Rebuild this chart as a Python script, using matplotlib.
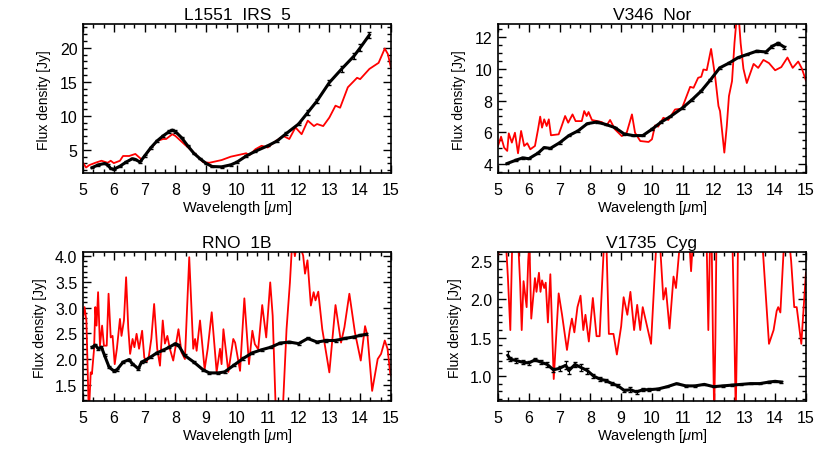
import matplotlib
matplotlib.use("Agg")
import matplotlib.pyplot as plt
from matplotlib.ticker import MultipleLocator, FormatStrFormatter

plt.rcParams['font.family'] = ['Liberation Sans', 'DejaVu Sans']
plt.rcParams['mathtext.fontset'] = 'custom'
plt.rcParams['mathtext.it'] = 'Liberation Sans:italic'
plt.rcParams['mathtext.rm'] = 'Liberation Sans'

# ---------------- L1551 IRS 5 ----------------
l1551_obs_wl = [5.3, 5.5, 5.7, 5.8, 5.9, 6.0, 6.2, 6.4, 6.6, 6.7, 6.85, 7.0, 7.2, 7.4, 7.6, 7.8, 7.9,
                8.0, 8.2, 8.4, 8.6, 8.8, 9.0, 9.2, 9.5, 9.8, 10.0, 10.3, 10.6, 11.0, 11.3, 11.6, 12.0,
                12.3, 12.6, 13.0, 13.4, 13.8, 14.0, 14.3]
l1551_obs_flux = [2.4, 2.8, 3.0, 2.8, 2.25, 2.15, 2.6, 3.2, 3.7, 3.6, 3.2, 4.1, 5.3, 6.3, 7.05, 7.7, 7.9,
                  7.7, 6.8, 5.6, 4.5, 3.7, 3.0, 2.55, 2.5, 2.8, 3.2, 4.1, 4.8, 5.6, 6.3, 7.4, 8.8,
                  10.5, 12.2, 14.9, 16.9, 18.8, 20.0, 21.9]
l1551_obs_err = [0.1, 0.1, 0.1, 0.1, 0.1, 0.1, 0.1, 0.1, 0.1, 0.1, 0.1, 0.1, 0.1, 0.1, 0.1, 0.15, 0.15,
                 0.15, 0.1, 0.1, 0.1, 0.1, 0.1, 0.1, 0.1, 0.1, 0.1, 0.1, 0.1, 0.1, 0.15, 0.2, 0.2,
                 0.3, 0.3, 0.4, 0.4, 0.5, 0.5, 0.5]
l1551_mod_wl = [5.0, 5.1, 5.2, 5.4, 5.6, 5.8, 5.9, 6.0, 6.2, 6.3, 6.5, 6.7, 6.9, 7.0, 7.2, 7.4, 7.6, 7.7,
                7.9, 8.0, 8.3, 8.6, 8.9, 9.1, 9.5, 9.8, 10.0, 10.3, 10.4, 10.6, 10.8, 11.0, 11.2, 11.5,
                11.7, 11.9, 12.1, 12.3, 12.5, 12.6, 12.8, 13.0, 13.2, 13.35, 13.6, 13.9, 14.0, 14.3,
                14.6, 14.8, 14.9, 15.0]
l1551_mod_flux = [3.1, 2.4, 2.75, 3.1, 3.4, 3.1, 3.4, 3.05, 3.4, 4.1, 4.1, 4.4, 3.6, 4.1, 5.2, 6.3, 6.6, 6.6,
                  7.3, 7.05, 5.8, 4.6, 3.2, 3.1, 3.5, 4.0, 4.2, 4.5, 4.2, 5.1, 5.6, 5.35, 6.1, 7.05,
                  6.6, 8.3, 7.3, 9.3, 8.5, 8.8, 8.5, 9.75, 11.5, 11.2, 14.2, 15.6, 15.4, 16.9,
                  17.8, 19.9, 19.1, 17.1]

# ---------------- V346 Nor ----------------
v346_obs_wl = [5.3, 5.6, 5.8, 6.0, 6.3, 6.5, 6.7, 7.0, 7.3, 7.6, 7.9, 8.2, 8.5, 8.8, 9.1, 9.4, 9.7,
               10.0, 10.3, 10.6, 11.0, 11.3, 11.6, 11.9, 12.2, 12.5, 12.8, 13.1, 13.4, 13.7, 13.9,
               14.1, 14.3]
v346_obs_flux = [4.05, 4.27, 4.4, 4.35, 4.7, 5.05, 5.0, 5.35, 5.8, 6.1, 6.55, 6.65, 6.5, 6.3, 5.9, 5.8,
                 5.8, 6.2, 6.65, 7.0, 7.55, 8.05, 8.6, 9.3, 10.05, 10.35, 10.7, 10.9, 11.1, 11.05,
                 11.4, 11.6, 11.35]
v346_obs_err = [0.05] * 29 + [0.08, 0.1, 0.1, 0.1]
v346_mod_wl = [5.0, 5.1, 5.2, 5.3, 5.35, 5.45, 5.55, 5.65, 5.75, 5.85, 5.95, 6.05, 6.2, 6.3, 6.37,
               6.43, 6.5, 6.58, 6.65, 6.72, 6.97, 7.05, 7.18, 7.28, 7.42, 7.52, 7.72, 7.8, 7.88,
               7.94, 8.05, 8.37, 8.53, 8.64, 8.8, 9.02, 9.18, 9.35, 9.45, 9.62, 9.89, 10.0, 10.1,
               10.2, 10.37, 10.53, 10.75, 10.97, 11.24, 11.35, 11.5, 11.6, 11.67, 11.78, 11.92,
               12.05, 12.16, 12.21, 12.35, 12.43, 12.5, 12.6, 12.68, 12.76, 12.82, 12.88, 12.97,
               13.08, 13.3, 13.45, 13.62, 13.8, 14.0, 14.2, 14.4, 14.57, 14.75, 14.87, 15.0]
v346_mod_flux = [5.15, 5.73, 5.04, 4.84, 5.94, 5.36, 5.98, 4.69, 6.09, 5.15, 5.32, 4.94, 5.15, 6.19, 6.99,
                 6.3, 6.82, 6.4, 6.82, 5.82, 5.88, 6.3, 7.03, 6.61, 7.13, 6.71, 6.71, 7.34, 7.03,
                 7.28, 6.78, 6.65, 6.44, 6.78, 6.19, 5.77, 5.98, 7.13, 5.98, 5.46, 5.4, 5.57, 6.44,
                 6.36, 6.92, 6.78, 7.44, 7.49, 8.86, 8.8, 9.43, 9.49, 9.95, 9.91, 11.24,
                 9.53, 7.65, 7.34, 4.73, 6.4, 8.28, 9.22, 11.62, 13.4, 13.2, 11.6, 10.0,
                 9.1, 10.3, 10.05, 10.55, 10.35, 9.9, 10.1, 10.7, 10.05, 10.45, 10.0, 9.25]

# ---------------- RNO 1B ----------------
rno_obs_wl = [5.3, 5.4, 5.5, 5.6, 5.7, 5.85, 6.0, 6.1, 6.3, 6.5, 6.6, 6.8, 6.9, 7.0, 7.2, 7.4, 7.6,
              7.8, 8.0, 8.1, 8.3, 8.6, 8.9, 9.1, 9.4, 9.6, 9.9, 10.2, 10.5, 10.8, 11.1, 11.4, 11.7,
              12.0, 12.3, 12.6, 12.9, 13.2, 13.5, 13.8, 14.0, 14.2]
rno_obs_flux = [2.23, 2.27, 2.2, 2.23, 2.07, 1.84, 1.77, 1.79, 1.94, 1.99, 1.91, 1.81, 1.94, 1.97, 2.04,
                2.12, 2.17, 2.23, 2.3, 2.27, 2.07, 1.94, 1.79, 1.73, 1.73, 1.75, 1.88, 2.01, 2.12,
                2.18, 2.23, 2.31, 2.33, 2.3, 2.4, 2.33, 2.36, 2.36, 2.4, 2.43, 2.46, 2.48]
rno_obs_err = [0.02] * 42
rno_mod_wl = [5.0, 5.05, 5.11, 5.19, 5.25, 5.29, 5.36, 5.4, 5.44, 5.49, 5.55, 5.62, 5.68, 5.77, 5.83,
              5.9, 5.96, 6.03, 6.1, 6.2, 6.25, 6.33, 6.4, 6.47, 6.53, 6.61, 6.67, 6.74, 6.82, 6.92,
              6.99, 7.07, 7.14, 7.22, 7.31, 7.41, 7.5, 7.59, 7.66, 7.74, 7.82, 7.93, 8.1, 8.2, 8.31,
              8.45, 8.58, 8.64, 8.69, 8.8, 8.95, 9.05, 9.18, 9.34, 9.45, 9.5, 9.56, 9.72, 9.88,
              9.94, 10.1, 10.24, 10.39, 10.5, 10.58, 10.69, 10.82, 10.95, 11.08, 11.16, 11.26,
              11.33, 11.4, 11.5, 11.61, 11.72, 11.8, 11.88, 11.97, 12.05, 12.15, 12.21, 12.29,
              12.4, 12.49, 12.55, 12.64, 12.77, 13.0, 13.2, 13.38, 13.49, 13.65, 13.83, 14.02,
              14.16, 14.24, 14.39, 14.57, 14.68, 14.8, 14.89, 14.98, 15.0]
rno_mod_flux = [2.78, 3.01, 2.75, 0.9, 1.74, 1.71, 2.2, 3.01, 2.65, 3.3, 2.26, 2.65, 2.26, 2.26, 3.27,
                2.42, 2.45, 1.9, 2.2, 2.78, 2.45, 2.75, 3.59, 2.6, 2.1, 2.39, 2.23, 2.49, 2.2, 2.55,
                2.03, 1.95, 2.06, 2.4, 3.07, 2.2, 1.87, 2.75, 2.3, 2.45, 2.2, 1.97, 2.58, 2.13, 2.0,
                3.98, 2.2, 2.39, 2.16, 2.75, 1.8, 2.2, 2.91, 1.75, 2.2, 1.9, 2.58, 1.75, 2.39,
                2.32, 1.77, 3.18, 1.9, 2.55, 2.29, 2.19, 3.05, 2.42, 3.49, 2.84, 1.0,
                0.5, 0.7, 1.16, 2.58, 3.49, 4.35, 4.0, 4.3, 4.2, 4.01, 3.66, 3.92,
                3.04, 3.3, 3.14, 3.31, 2.58, 1.74, 3.05, 2.32, 2.62, 3.27, 2.52, 1.97,
                2.64, 2.45, 1.38, 2.0, 2.1, 2.36, 2.2, 1.71, 1.68]

# ---------------- V1735 Cyg ----------------
v1735_obs_wl = [5.32, 5.4, 5.6, 5.8, 6.0, 6.2, 6.4, 6.6, 6.8, 7.0, 7.2, 7.3, 7.5, 7.7, 7.9, 8.1, 8.3,
                8.5, 8.7, 8.9, 9.1, 9.3, 9.5, 9.7, 9.9, 10.2, 10.5, 10.8, 11.1, 11.4, 11.7, 12.0,
                12.3, 12.6, 12.9, 13.2, 13.5, 13.8, 14.0, 14.2]
v1735_obs_flux = [1.27, 1.22, 1.2, 1.18, 1.17, 1.21, 1.18, 1.15, 1.08, 1.1, 1.14, 1.07, 1.15, 1.11, 1.07,
                  1.0, 0.96, 0.94, 0.9, 0.87, 0.81, 0.82, 0.79, 0.82, 0.82, 0.83, 0.86, 0.9, 0.87,
                  0.87, 0.89, 0.86, 0.87, 0.88, 0.89, 0.9, 0.9, 0.92, 0.93, 0.92]
v1735_obs_err = [0.05, 0.03, 0.03, 0.03, 0.03, 0.02, 0.03, 0.03, 0.03, 0.03, 0.05, 0.05, 0.03, 0.05,
                 0.04, 0.03, 0.02, 0.02, 0.02, 0.02, 0.02, 0.03, 0.03, 0.02, 0.02, 0.01, 0.01, 0.01,
                 0.01, 0.01, 0.01, 0.01, 0.01, 0.01, 0.01, 0.01, 0.01, 0.01, 0.01, 0.01]
v1735_mod_wl = [5.0, 5.12, 5.25, 5.32, 5.4, 5.46, 5.55, 5.65, 5.72, 5.77, 5.83, 5.93, 5.98, 6.02, 6.08,
                6.2, 6.25, 6.33, 6.38, 6.43, 6.5, 6.55, 6.62, 6.7, 6.81, 6.97, 7.08, 7.24, 7.33, 7.4,
                7.48, 7.58, 7.68, 7.77, 7.84, 7.95, 8.08, 8.2, 8.3, 8.45, 8.52, 8.6, 8.75, 8.86, 9.0,
                9.08, 9.2, 9.3, 9.42, 9.52, 9.62, 9.7, 9.97, 10.15, 10.25, 10.37, 10.45, 10.57, 10.7,
                10.78, 10.92, 11.1, 11.22, 11.27, 11.32, 11.4, 11.7, 11.78, 11.83, 11.88, 11.93,
                11.98, 12.02, 12.06, 12.1, 12.6, 12.68, 12.72, 12.76, 12.8, 13.5, 13.6, 13.8, 13.95,
                14.05, 14.1, 14.17, 14.27, 14.35, 14.45, 14.52, 14.62, 14.7, 14.85, 15.0]
v1735_mod_flux = [2.58, 2.75, 2.8, 2.3, 1.6, 2.7, 3.0, 2.8, 2.2, 1.6, 2.24, 1.9, 2.5, 2.75, 1.75,
                  2.28, 2.1, 2.35, 2.1, 2.25, 2.15, 2.22, 1.7, 2.33, 0.96, 2.08, 1.8, 1.34, 1.6, 1.75,
                  1.57, 1.9, 2.05, 1.6, 1.8, 1.45, 2.02, 1.52, 1.52, 2.8, 2.75, 1.55, 1.55, 1.28, 1.65,
                  2.03, 1.8, 2.1, 1.6, 1.93, 1.6, 1.9, 1.42, 2.8, 2.8, 2.0, 2.15, 1.62, 2.3,
                  2.15, 2.8, 2.9, 2.7, 2.37, 2.7, 3.0, 3.0, 2.65, 1.6, 2.65, 3.0,
                  1.5, 0.5, 1.5, 3.0, 3.0, 1.5, 0.5, 1.5, 3.0, 3.0, 2.65, 1.42, 1.6,
                  1.85, 1.9, 1.83, 2.6, 2.8, 2.8, 2.5, 1.9, 1.9, 1.42, 2.35]

titles = ['L1551  IRS  5', 'V346  Nor', 'RNO  1B', 'V1735  Cyg']
ylims = [(1.57, 23.5), (3.44, 12.8), (1.18, 4.08), (0.67, 2.62)]
ymajor = [5, 2, 0.5, 0.5]
yminor = [1, 0.5, 0.1, 0.1]
yfmt = ['%d', '%d', '%.1f', '%.1f']

panels = [
    (l1551_obs_wl, l1551_obs_flux, l1551_obs_err, l1551_mod_wl, l1551_mod_flux),
    (v346_obs_wl, v346_obs_flux, v346_obs_err, v346_mod_wl, v346_mod_flux),
    (rno_obs_wl, rno_obs_flux, rno_obs_err, rno_mod_wl, rno_mod_flux),
    (v1735_obs_wl, v1735_obs_flux, v1735_obs_err, v1735_mod_wl, v1735_mod_flux),
]

fig = plt.figure(figsize=(8.30, 4.56), dpi=100)
rects = [
    [0.1, 0.618, 0.371, 0.327],
    [0.6, 0.618, 0.371, 0.327],
    [0.1, 0.118, 0.371, 0.327],
    [0.6, 0.118, 0.371, 0.327],
]

for i, (rect, pdata) in enumerate(zip(rects, panels)):
    ax = fig.add_axes(rect)
    ow, of, oe, mw, mf = pdata
    ax.plot(mw, mf, color='#ff0000', lw=1.3, zorder=2, solid_joinstyle='round')
    ax.errorbar(ow, of, yerr=oe, fmt='-', color='black', lw=2.2, elinewidth=0.8,
                capsize=1.2, zorder=3)
    ax.set_xlim(5, 15)
    ax.set_ylim(*ylims[i])
    ax.xaxis.set_major_locator(MultipleLocator(1))
    ax.xaxis.set_minor_locator(MultipleLocator(1 / 3))
    ax.yaxis.set_major_locator(MultipleLocator(ymajor[i]))
    ax.yaxis.set_minor_locator(MultipleLocator(yminor[i]))
    ax.yaxis.set_major_formatter(FormatStrFormatter(yfmt[i]))
    ax.tick_params(which='both', direction='in', top=True, right=True, width=1.0,
                   labelsize=11.5)
    ax.tick_params(which='major', length=6)
    ax.tick_params(which='minor', length=3)
    ax.tick_params(axis='x', pad=6)
    ax.tick_params(axis='y', pad=4)
    for sp in ax.spines.values():
        sp.set_linewidth(1.2)
    ax.set_title(titles[i], fontsize=12.5, pad=4)
    ax.set_xlabel('Wavelength [$\\mu$m]', fontsize=10.5, labelpad=1)
    ax.set_ylabel('Flux density [Jy]', fontsize=10, labelpad=6)

fig.savefig('out.png', dpi=100)
